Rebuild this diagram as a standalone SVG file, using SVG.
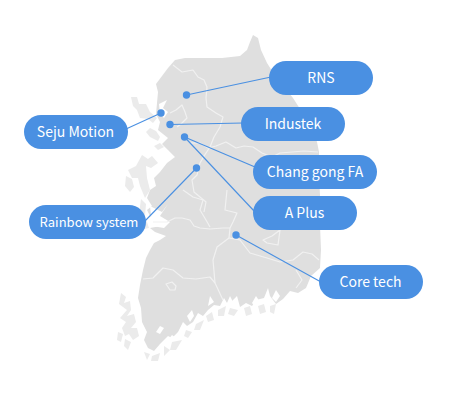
<svg xmlns="http://www.w3.org/2000/svg" width="452" height="400" viewBox="0 0 452 400">
<style>
.land{fill:#dfdfdf}
.isle{fill:#ebebeb}
.cut{fill:#fff}
.bd{fill:none;stroke:#f1f1f1;stroke-width:1.2;stroke-linejoin:round}
.pill{fill:#4a90e2}
.lbl{fill:#fff;font-family:"Noto Sans CJK KR","Noto Sans",sans-serif;font-size:14px;font-weight:400;text-anchor:middle}
.ln{stroke:#4a90e2;stroke-width:1.1;fill:none}
.dot{fill:#4a90e2}
</style>
<rect width="452" height="400" fill="#fff"/>
<g id="map">
<path class="land" d="M253 35L258 38L261 50L267 63L274 74L284 87L293 98L302 112L311 128L317 142L319 152L319 175L320 195L320 225L321 250L320 268L311 276L306 288L298 293L290 291L283 299L276 304L270 296L268 288L264 298L256 300L252 306L246 303L240 307L237 296L232 301L227 303L224 298L220 306L214 305L208 310L203 316L198 313L193 322L187 326L183 322L178 332L172 338L168 336L160 344L154 351L148 348L144 340L147 332L142 322L141 308L138 298L140 285L143 270L146 258L150 250L154 243L160 240L166 236L155 232L150 228L161 226L156 220L150 216L147 210L152 206L147 198L150 190L156 186L154 178L160 172L167 163L175 157L168 150L162 144L168 138L158 130L160 122L156 114L157 103L158 92L156 84L162 76L168 68L175 60L185 58L205 58L222 58L240 56L247 50L250 42Z"/>
<path class="cut" d="M167 100L163 108L168 112L164 118L160 114L159 104ZM151 160L158 158L160 164L155 166ZM168 340L172 335L176 338L172 344ZM227 303L230 296L234 304L229 308ZM252 303L256 296L260 302L256 308ZM276 290L280 296L276 302L272 298ZM160 326L164 328L160 334L156 332ZM187 316L192 310L194 316L190 322ZM210 296L214 302L208 306ZM153 140L165 148L170 156L160 160L156 150ZM150 206L162 212L168 204L160 216L170 222L164 228L152 226Z"/>
<path class="isle" d="M131 97L137 97L139 104L146 104L150 112L157 118L153 123L148 119L140 118L137 110L133 106ZM150 128L156 131L160 137L158 141L150 137L146 132ZM160 143L164 147L158 150L154 146ZM142 155L148 159L152 156L158 163L151 168L146 166L147 178L150 190L145 198L140 186L138 178L132 178L128 170L136 166ZM126 176L132 179L134 187L130 192L125 186ZM141 199L146 204L145 216L149 228L144 229L139 214ZM121 293L126 297L124 303L130 301L131 310L127 316L134 314L136 322L131 328L137 328L139 336L133 340L129 334L125 336L122 328L126 322L120 318L127 310L119 304ZM118 332L123 334L121 342L117 340ZM125 339L131 342L128 350L124 346ZM144 352L150 354L147 360ZM152 356L160 353L158 361L151 361ZM164 346L170 350L164 356ZM172 342L182 340L176 350L170 350ZM186 330L192 332L188 338L184 336ZM196 324L204 320L200 330L194 330ZM206 316L212 312L214 320L208 322ZM218 310L226 306L224 316L218 316ZM230 308L238 310L234 316L228 314ZM244 308L250 306L252 314L246 316ZM258 306L264 304L266 312L260 314ZM270 306L276 304L274 314L270 312Z"/>
<g class="bd">
<path d="M173 65L182 72L193 70L198 77L204 80L207 87L206 98L207 107L216 113L223 117L220 127L214 137L210 147L204 156L200 163"/>
<path d="M170 113L176 110L182 105L185 112L187 118L181 124L177 127"/>
<path d="M190 143L200 143L208 148L216 146L226 142L236 148L244 146L253 147L262 153L272 157L280 153L292 152L304 151L318 152"/>
<path d="M153 222L167 222L175 218L182 218L190 220L194 226L200 228L210 229L223 228L230 228"/>
<path d="M183 190L193 197L203 200L200 210L206 220L210 227"/>
<path d="M200 163L197 175L192 180L194 192L206 202L204 212"/>
<path d="M227 190L225 210L237 213L233 222L230 228L229 238"/>
<path d="M229 238L217 247L213 260L215 283L223 300"/>
<path d="M143 279L153 278L163 268L173 270L183 278L196 279L210 277L215 283"/>
<path d="M166 284L172 282L176 286L175 290L170 290Z"/>
<path d="M229 238L240 240L250 253L267 258L280 262L293 260L303 252L312 254L319 260"/>
<path d="M263 240L272 236L280 230L278 245L267 243Z"/>
<path d="M296 270L302 280L296 288"/>
<path d="M285 197L283 222"/>
</g>
</g>
<g id="connectors">
<line class="ln" x1="186.500" y1="95" x2="271" y2="77"/>
<line class="ln" x1="161" y1="113" x2="126" y2="129"/>
<line class="ln" x1="170" y1="124.500" x2="243" y2="123"/>
<line class="ln" x1="184.500" y1="137" x2="255" y2="167"/>
<line class="ln" x1="184.500" y1="137" x2="255" y2="212"/>
<line class="ln" x1="196.500" y1="168" x2="144" y2="222"/>
<line class="ln" x1="236" y1="235" x2="321" y2="282"/>
</g>
<circle class="dot" cx="186.500" cy="95" r="3.700"/>
<circle class="dot" cx="161" cy="113" r="3.700"/>
<circle class="dot" cx="170" cy="124.500" r="3.700"/>
<circle class="dot" cx="184.500" cy="137" r="3.700"/>
<circle class="dot" cx="196.500" cy="168" r="3.700"/>
<circle class="dot" cx="236" cy="235" r="3.700"/>
<g id="rns"><rect class="pill" x="269" y="61" width="104" height="34" rx="17"/><text class="lbl" x="321" y="83">RNS</text></g>
<g id="industek"><rect class="pill" x="241" y="107" width="104" height="34" rx="17"/><text class="lbl" x="293" y="129">Industek</text></g>
<g id="seju-motion"><rect class="pill" x="24" y="115" width="104" height="34" rx="17"/><text class="lbl" x="75.500" y="137">Seju Motion</text></g>
<g id="chang-gong-fa"><rect class="pill" x="253" y="155" width="124" height="34" rx="17"/><text class="lbl" x="315" y="177">Chang gong FA</text></g>
<g id="a-plus"><rect class="pill" x="253" y="196" width="104" height="34" rx="17"/><text class="lbl" x="304.500" y="218">A Plus</text></g>
<g id="rainbow-system"><rect class="pill" x="29" y="205" width="117" height="34" rx="17"/><text class="lbl" x="89" y="227" style="font-size:13px">Rainbow system</text></g>
<g id="core-tech"><rect class="pill" x="319" y="265" width="104" height="34" rx="17"/><text class="lbl" x="370.500" y="287">Core tech</text></g>
</svg>
